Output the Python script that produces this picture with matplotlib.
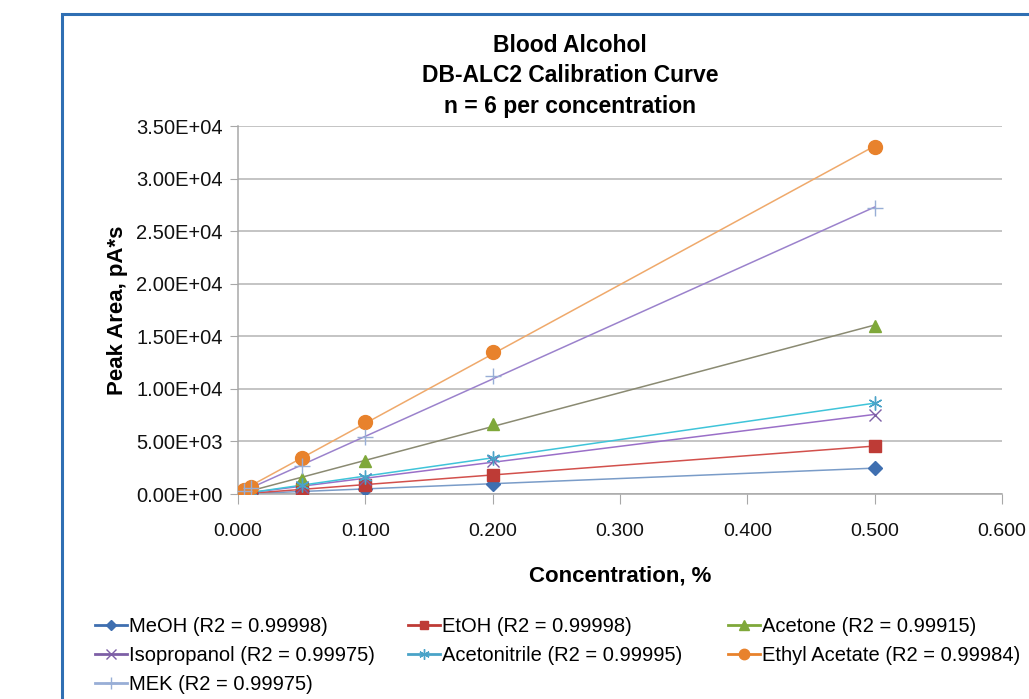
import matplotlib

matplotlib.use("Agg")
import matplotlib.pyplot as plt
import numpy as np
from matplotlib.lines import Line2D
from matplotlib.patches import Rectangle
from matplotlib.ticker import FormatStrFormatter

plt.rcParams["font.family"] = ["Liberation Sans", "DejaVu Sans"]

# ---- data (mean peak area per concentration) ---------------------------
conc = [0.005, 0.01, 0.05, 0.1, 0.2, 0.5]
meoh = [25, 50, 240, 480, 960, 2470]
etoh = [45, 90, 430, 870, 1800, 4570]
acetone = [160, 320, 1450, 3150, 6650, 16000]
isopropanol = [75, 150, 700, 1450, 3100, 7550]
acetonitrile = [85, 170, 820, 1650, 3450, 8650]
ethyl_acetate = [340, 690, 3430, 6850, 13500, 33000]
mek = [270, 540, 2700, 5450, 11200, 27200]

names = ["MeOH", "EtOH", "Acetone", "Isopropanol", "Acetonitrile",
         "Ethyl Acetate", "MEK"]
r2 = ["0.99998", "0.99998", "0.99915", "0.99975", "0.99995", "0.99984", "0.99975"]
series = [meoh, etoh, acetone, isopropanol, acetonitrile, ethyl_acetate, mek]

# marker colour, trendline colour, marker, marker size
styles = [
    ("#3f6fb0", "#7a9cc8", "D", 7),
    ("#be3b36", "#d2504c", "s", 8),
    ("#7fa83a", "#8a8a72", "^", 9),
    ("#7d5fa6", "#9a6fc8", "x", 9),
    ("#4aa3c8", "#3fc4d9", (6, 2, 0), 10),
    ("#e8822c", "#efa96b", "o", 10),
    ("#98aed6", "#9b82cc", "+", 12),
]

W, H = 1029, 699
fig = plt.figure(figsize=(W / 100, H / 100), dpi=100)
fig.patches.append(Rectangle((62 / W, -0.2), 2.0, (H - 14) / H + 0.2,
                             transform=fig.transFigure, fill=False,
                             edgecolor="#2f6fb3", linewidth=2.2))

ax = fig.add_axes([238 / W, 1 - 494 / H, (1002 - 238) / W, (494 - 126) / H])

xfit = np.array([min(conc), max(conc)])
for ys, (mc, lc, mk, ms) in zip(series, styles):
    k, b = np.polyfit(conc, ys, 1)
    ax.plot(xfit, k * xfit + b, color=lc, lw=1.1, zorder=2)
    if mk in ("x", "+"):
        ax.plot(conc, ys, ls="none", marker=mk, ms=ms, mew=1.0, color=mc, zorder=3)
    else:
        ax.plot(conc, ys, ls="none", marker=mk, ms=ms, color=mc, mec=mc, zorder=3)

ax.set_xlim(0, 0.6)
ax.set_ylim(0, 35000)
ax.set_xticks(np.arange(0, 0.61, 0.1))
ax.set_yticks(np.arange(0, 35001, 5000))
ax.xaxis.set_major_formatter(FormatStrFormatter("%.3f"))
ax.yaxis.set_major_formatter(FormatStrFormatter("%.2E"))
ax.grid(axis="y", color="#b4b4b4", linewidth=1.1)
ax.set_axisbelow(True)
for s in ("top", "right"):
    ax.spines[s].set_visible(False)
for s in ("left", "bottom"):
    ax.spines[s].set_color("#a8a8a8")
    ax.spines[s].set_linewidth(1.1)
ax.tick_params(axis="y", length=6, color="#a8a8a8", pad=5, labelsize=14.5,
               labelcolor="#111111")
ax.tick_params(axis="x", length=7, color="#a8a8a8", pad=14, labelsize=14,
               labelcolor="#111111")

ax.set_xlabel("Concentration, %", fontsize=16, fontweight="bold", labelpad=18)
ax.set_ylabel("Peak Area, pA*s", fontsize=16, fontweight="bold", labelpad=6)

title = ["Blood Alcohol", "DB-ALC2 Calibration Curve", "n = 6 per concentration"]
for i, t in enumerate(title):
    fig.text(570 / W, 1 - (46 + 30 * i) / H, t, ha="center", va="center",
             fontsize=16.5, fontweight="bold")

# legend, three fixed columns like the Excel layout
handles = []
for (mc, lc, mk, ms), n, r in zip(styles, names, r2):
    handles.append(Line2D([], [], color=mc, lw=2, marker=mk, ms=ms * 0.75,
                          mew=1.0, label=f"{n} (R2 = {r})"))
cols = [([0, 3, 6], 95), ([1, 4], 408), ([2, 5], 728)]
for idx, x0 in cols:
    fig.legend([handles[i] for i in idx], [handles[i].get_label() for i in idx],
               loc="upper left", bbox_to_anchor=(x0 / W, 1 - 617 / H),
               frameon=False, fontsize=14.5, handlelength=1.6,
               handletextpad=0.1, labelspacing=0.5, borderpad=0,
               borderaxespad=0)

fig.savefig("out.png", dpi=100)
